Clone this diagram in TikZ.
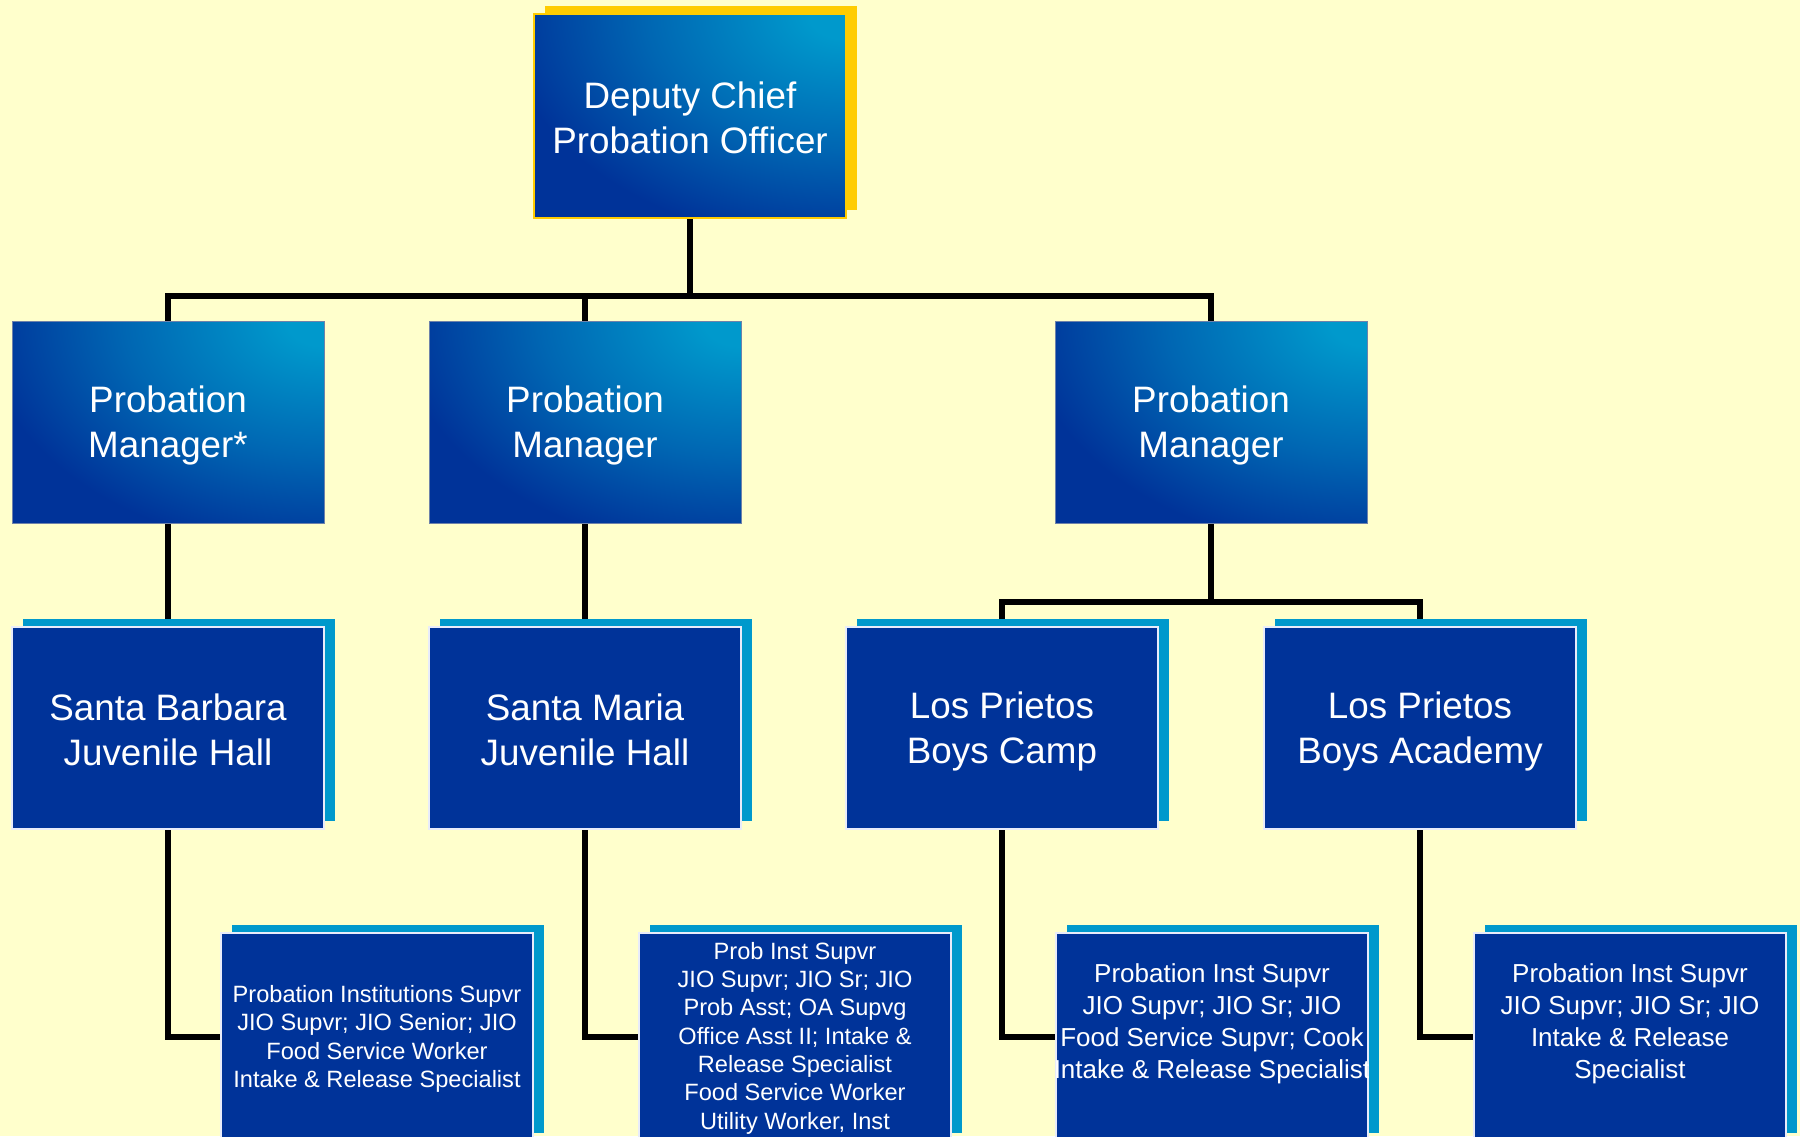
\documentclass[tikz,border=0pt]{standalone}
\usepackage{fontspec}
\setmainfont{Liberation Sans}
\usetikzlibrary{shadows}
\definecolor{bgy}{HTML}{FFFFCC}
\definecolor{db}{HTML}{003399}
\definecolor{lb}{HTML}{0099CC}
\definecolor{gold}{HTML}{FFCC00}
\definecolor{edge}{HTML}{6E82AA}
\definecolor{wedge}{HTML}{E8ECFA}
\pgfdeclareradialshading{trglow}{\pgfpoint{0bp}{0bp}}{color(0bp)=(lb); color(5bp)=(lb); color(27bp)=(lb!50!db); color(46bp)=(db); color(50bp)=(db)}
\newcommand\bs{\rule[-2.5pt]{0pt}{19.5pt}}
\pgfdeclarelayer{bg}
\pgfdeclarelayer{lines}
\pgfsetlayers{bg,lines,main}
\begin{document}
\begin{tikzpicture}[x=0.5pt,y=-0.5pt,
  bigfont/.style={font=\fontsize{18.4}{22.5}\selectfont},
  gradbox/.style={minimum width=156pt, minimum height=101pt, inner sep=0pt,
    fill=db, path picture={\node[inner sep=0pt, outer sep=0pt, xscale=3.7, yscale=2.5, transform shape] at (path picture bounding box.north east) {\pgfuseshading{trglow}};},
    text=white, align=center, bigfont, draw=edge, line width=0.5pt},
  topbox/.style={gradbox, minimum height=102pt, draw=gold, line width=1pt,
    drop shadow={fill=gold, opacity=1, shadow xshift=5.5pt, shadow yshift=4pt}},
  unitbox/.style={minimum width=156pt, minimum height=101pt, inner sep=0pt,
    fill=db, draw=wedge, line width=0.75pt, text=white, align=center, bigfont,
    drop shadow={fill=lb, opacity=1, shadow xshift=5.5pt, shadow yshift=4pt}},
  staffbox/.style={unitbox, minimum height=104pt},
  stafftxt/.style={text=white, align=center, inner sep=0pt},
  smalltxt/.style={stafftxt, font=\fontsize{11.8}{14.15}\selectfont},
  midtxt/.style={stafftxt, font=\fontsize{13}{16}\selectfont},
  conn/.style={draw=black, line width=2.8pt, line join=miter}
]
\useasboundingbox (0,0) rectangle (1800,1136);
\begin{pgfonlayer}{bg}
\fill[bgy] (0,0) rectangle (1800,1136);
\end{pgfonlayer}

% top
\node[topbox] (dcpo) at (690,116) {\bs Deputy Chief\\\bs Probation Officer};

% managers
\node[gradbox] (m1) at (168,422) {\bs Probation~\\\bs Manager*};
\node[gradbox] (m2) at (585,422) {\bs Probation\\\bs Manager};
\node[gradbox] (m3) at (1211,422) {\bs Probation\\\bs Manager};

% units
\node[unitbox] (l1) at (168,728) {\bs Santa Barbara\\\bs Juvenile Hall};
\node[unitbox] (l2) at (585,728) {\bs Santa Maria\\\bs Juvenile Hall};
\node[unitbox] (l3) at (1002,728) {\bs Los Prietos\\\bs Boys Camp};
\node[unitbox] (l4) at (1420,728) {\bs Los Prietos\\\bs Boys Academy};

% staff boxes
\node[staffbox] (b1) at (377,1037) {};
\node[staffbox] (b2) at (795,1037) {};
\node[staffbox] (b3) at (1212,1037) {};
\node[staffbox] (b4) at (1630,1037) {};

\node[smalltxt] (t1) at (377,1039) {Probation Institutions Supvr\\JIO Supvr; JIO Senior; JIO\\Food Service Worker\\Intake \& Release Specialist};
\node[smalltxt] (t2) at (795,1038) {Prob Inst Supvr\\JIO Supvr; JIO Sr; JIO\\Prob Asst; OA Supvg\\Office Asst II; Intake \&\\Release Specialist\\Food Service Worker\\Utility Worker, Inst};
\begin{scope}
\clip (b3.south west) rectangle (b3.north east);
\node[midtxt] (t3) at (1212,1024) {Probation Inst Supvr\\JIO Supvr; JIO Sr; JIO\\Food Service Supvr; Cook\\Intake \& Release Specialist};
\end{scope}
\node[midtxt] (t4) at (1630,1024) {Probation Inst Supvr\\JIO Supvr; JIO Sr; JIO\\Intake \& Release\\Specialist};

% connectors
\begin{pgfonlayer}{lines}
\coordinate (j0) at (690,296);
\coordinate (j3) at (1211,602);
\draw[conn] (dcpo.south) -- (j0);
\draw[conn] (m1.north) |- (j0) -| (m3.north);
\draw[conn] (j0) -| (m2.north);
\draw[conn] (m1.south) -- (l1.north);
\draw[conn] (m2.south) -- (l2.north);
\draw[conn] (m3.south) -- (j3);
\draw[conn] (l3.north) |- (j3) -| (l4.north);
\draw[conn] (l1.south) |- (b1.west);
\draw[conn] (l2.south) |- (b2.west);
\draw[conn] (l3.south) |- (b3.west);
\draw[conn] (l4.south) |- (b4.west);
\end{pgfonlayer}
\end{tikzpicture}
\end{document}
